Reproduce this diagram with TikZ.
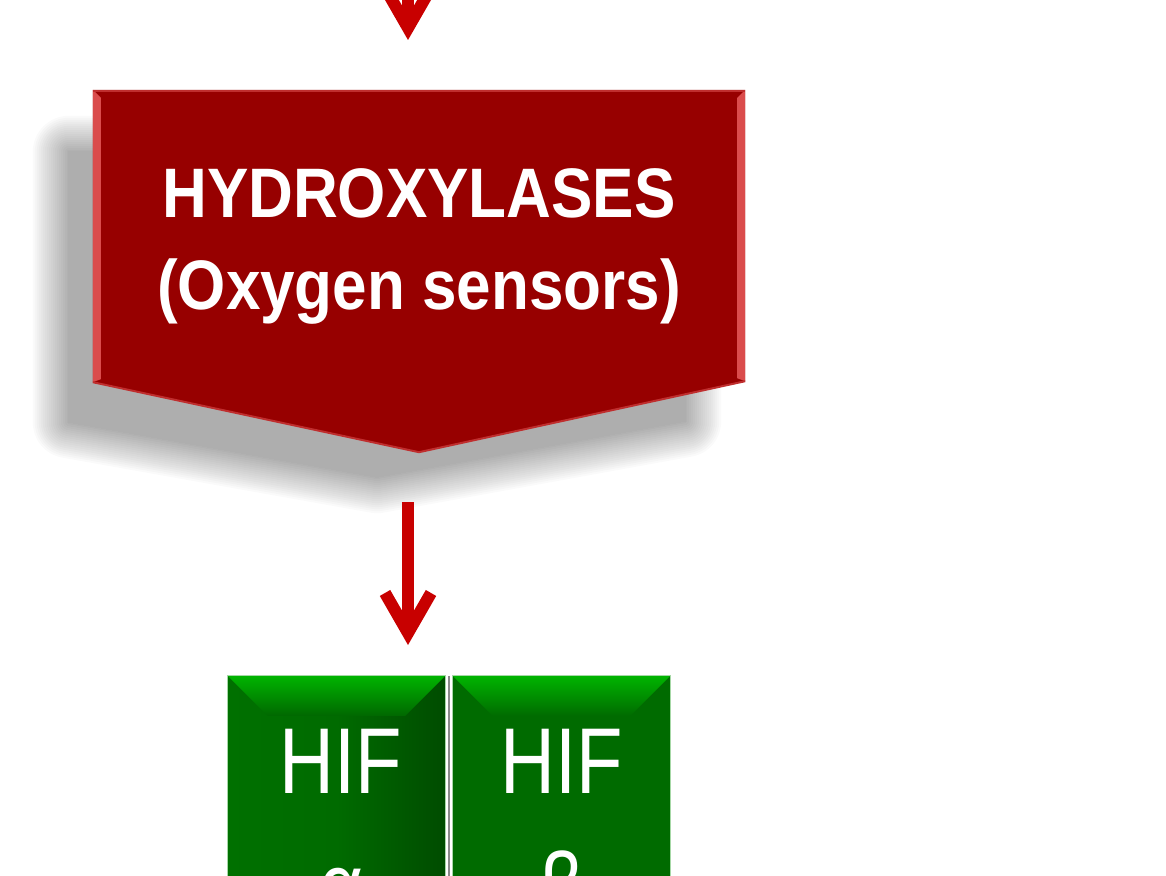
\documentclass[tikz,border=0pt]{standalone}
\usepackage{fontspec}
\setmainfont{Liberation Sans}
\usetikzlibrary{arrows.meta}
\definecolor{arrowred}{HTML}{C80000}
\definecolor{hydred}{HTML}{970000}
\definecolor{bevelred}{HTML}{DA4C4C}
\definecolor{hifgreen}{HTML}{006B00}
\definecolor{hifleft}{HTML}{007000}
\definecolor{hifdark}{HTML}{004C00}
\definecolor{hiflight}{HTML}{00B400}
\definecolor{hifedge}{HTML}{A6D8A6}
\definecolor{gapgray}{HTML}{8A8A8A}
\newcommand{\hydoutline}{(hyd.north west) -- (hyd.north east) -- ([yshift=71pt]hyd.south east) -- (hyd.south) -- ([yshift=70pt]hyd.south west) -- cycle}
\newcommand{\hydinset}{([xshift=18pt,yshift=-18pt]hyd.north west) -- ([xshift=-18pt,yshift=-18pt]hyd.north east) -- ([xshift=-18pt,yshift=75pt]hyd.south east) -- ([yshift=19pt]hyd.south) -- ([xshift=18pt,yshift=74pt]hyd.south west) -- cycle}
\begin{document}
\begin{tikzpicture}[x=1pt,y=-1pt,
  redarrow/.style={draw=arrowred, line width=12pt, -{Straight Barb[length=40pt,width=46pt]}},
  anchorbox/.style={draw=none, fill=none, inner sep=0pt, rectangle},
  hydtext/.style={text=white, font=\bfseries\fontsize{62}{92}\selectfont, align=center, inner sep=0pt},
  hiftext/.style={text=white, font=\fontsize{76}{125}\selectfont, align=center, inner sep=0pt, anchor=north},
  hifbody/.style={rectangle, inner sep=0pt, minimum width=217pt, minimum height=260pt},
  hifborder/.style={draw=hifedge, line width=1.2pt},
]
\useasboundingbox (0,0) rectangle (1166,875);
\clip (0,0) rectangle (1166,875);

% hydroxylases block
\node[anchorbox, minimum width=652pt, minimum height=362pt] (hyd) at (419,271) {};
\begin{scope}[transform canvas={xshift=-42pt,yshift=-44pt}]
  \foreach \w in {0,4,...,72}{
    \begin{scope}[transparency group, opacity=0.02]
      \filldraw[black, line width=\w pt, line join=round] \hydinset;
    \end{scope}
  }
\end{scope}
\fill[hydred] \hydoutline;
\fill[bevelred] (hyd.north west) -- ([xshift=8pt,yshift=-8pt]hyd.north west) -- ([xshift=8pt,yshift=73pt]hyd.south west) -- ([yshift=70pt]hyd.south west) -- cycle;
\fill[bevelred] (hyd.north east) -- ([xshift=-8pt,yshift=-8pt]hyd.north east) -- ([xshift=-8pt,yshift=74pt]hyd.south east) -- ([yshift=71pt]hyd.south east) -- cycle;
\draw[bevelred!60!hydred, line width=2pt] ([yshift=-1pt]hyd.north west) -- ([yshift=-1pt]hyd.north east);
\draw[bevelred!60!hydred, line width=2pt] ([yshift=70pt]hyd.south west) -- (hyd.south) -- ([yshift=71pt]hyd.south east);
\node[hydtext] (hydlabel) at (419,246) {\scalebox{1}[1.13]{HYDROXYLASES}\\\scalebox{1}[1.13]{(Oxygen sensors)}};

% arrows
\coordinate (in1) at (408,-80);
\coordinate (tip1) at (408,40);
\draw[redarrow] (in1) -- (tip1);
\coordinate (s2) at (408,502);
\coordinate (tip2) at (408,645);
\draw[redarrow] (s2) -- (tip2);

% HIF boxes
\node[hifbody, left color=hifleft, right color=hifdark, middle color=hifgreen] (hifa) at (336.5,806) {};
\node[hifbody, fill=hifgreen] (hifb) at (561.5,806) {};
\shade[top color=hiflight, bottom color=hifgreen!90!hifdark] (hifa.north west) -- (hifa.north east) -- ([xshift=-40pt,yshift=-40pt]hifa.north east) -- ([xshift=40pt,yshift=-40pt]hifa.north west) -- cycle;
\shade[top color=hiflight, bottom color=hifgreen] (hifb.north west) -- (hifb.north east) -- ([xshift=-40pt,yshift=-40pt]hifb.north east) -- ([xshift=40pt,yshift=-40pt]hifb.north west) -- cycle;
\draw[hifborder] (hifa.south west) rectangle (hifa.north east);
\draw[hifborder] (hifb.south west) rectangle (hifb.north east);
\draw[gapgray, line width=2.5pt] ([xshift=4pt]hifa.north east) -- ([xshift=4pt]hifa.south east);
\node[hiftext] (hifalabel) at (341,729) {\scalebox{1}[1.23]{HIF}\\\scalebox{1}[1.23]{α}};
\node[hiftext] (hifblabel) at (562,729) {\scalebox{1}[1.23]{HIF}\\\scalebox{1}[1.23]{β}};
\end{tikzpicture}
\end{document}
